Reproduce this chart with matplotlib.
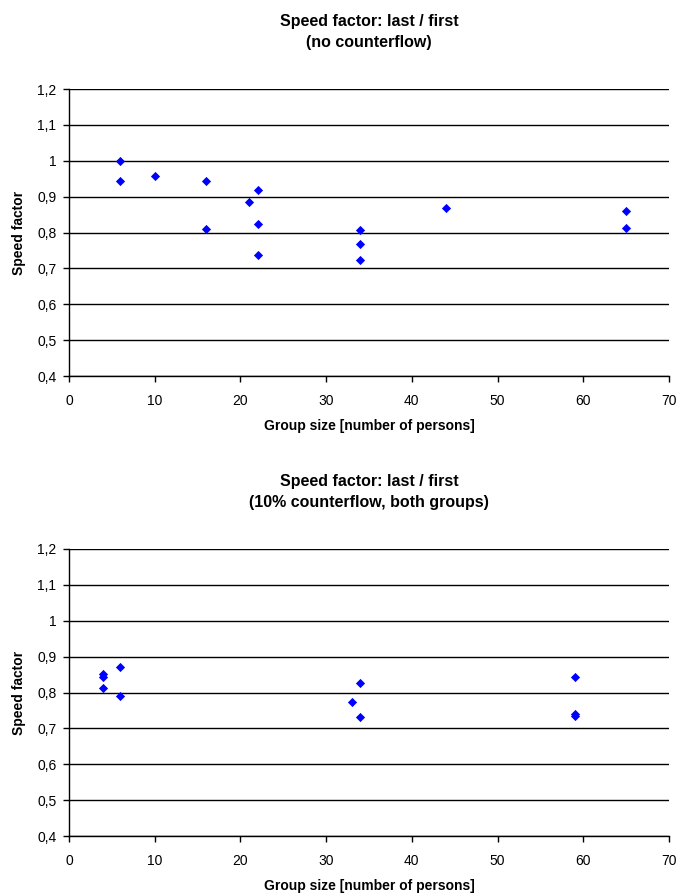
import matplotlib
matplotlib.use("Agg")
import matplotlib.pyplot as plt
from matplotlib.ticker import FuncFormatter, MultipleLocator

plt.rcParams['font.family'] = ['Liberation Sans', 'DejaVu Sans']

# Data
top_group_size = [6, 6, 10, 16, 16, 21, 22, 22, 22, 34, 34, 34, 44, 65, 65]
top_speed = [1.0, 0.943, 0.958, 0.943, 0.809, 0.885, 0.918, 0.824, 0.738,
             0.806, 0.767, 0.723, 0.869, 0.860, 0.812]

bot_group_size = [4, 4, 4, 6, 6, 33, 34, 34, 59, 59, 59]
bot_speed = [0.852, 0.843, 0.812, 0.871, 0.790, 0.774, 0.827, 0.732,
             0.842, 0.740, 0.734]

titles = ["Speed factor: last / first\n(no counterflow)",
          "Speed factor: last / first\n(10% counterflow, both groups)"]
xlabel = "Group size [number of persons]"
ylabel = "Speed factor"

W, H = 680, 896
fig = plt.figure(figsize=(W / 100, H / 100), dpi=100)

def make_axes(top_px, bottom_px):
    left_px, right_px = 69, 669
    return fig.add_axes([left_px / W, 1 - bottom_px / H,
                         (right_px - left_px) / W, (bottom_px - top_px) / H])

def fmt(v, pos):
    s = ("%.1f" % v).rstrip('0').rstrip('.')
    return s.replace('.', ',')

panels = [
    (make_axes(89, 376), top_group_size, top_speed, titles[0]),
    (make_axes(549, 836), bot_group_size, bot_speed, titles[1]),
]

for ax, xs, ys, title in panels:
    ax.set_xlim(0, 70)
    ax.set_ylim(0.4, 1.2)
    ax.yaxis.set_major_locator(MultipleLocator(0.1))
    ax.xaxis.set_major_locator(MultipleLocator(10))
    ax.yaxis.set_major_formatter(FuncFormatter(fmt))
    ax.grid(axis='y', color='black', linewidth=1.0)
    ax.set_axisbelow(True)
    for s in ['top', 'right']:
        ax.spines[s].set_visible(False)
    for s in ['left', 'bottom']:
        ax.spines[s].set_color('black')
        ax.spines[s].set_linewidth(1.0)
    ax.tick_params(direction='out', length=4, width=1, color='black',
                   labelsize=10)
    ax.tick_params(axis='x', pad=9)
    ax.tick_params(axis='y', pad=5)
    ax.scatter(xs, ys, marker='D', s=22, color='#0000FF', zorder=3,
               clip_on=False, linewidths=0)
    ax.set_xlabel(xlabel, fontsize=10, fontweight='bold', labelpad=8)
    ax.set_ylabel(ylabel, fontsize=10, fontweight='bold', labelpad=8)
    ax.set_title(title, fontsize=11.5, fontweight='bold', pad=30,
                 linespacing=1.5)

fig.savefig("out.png", dpi=100)
